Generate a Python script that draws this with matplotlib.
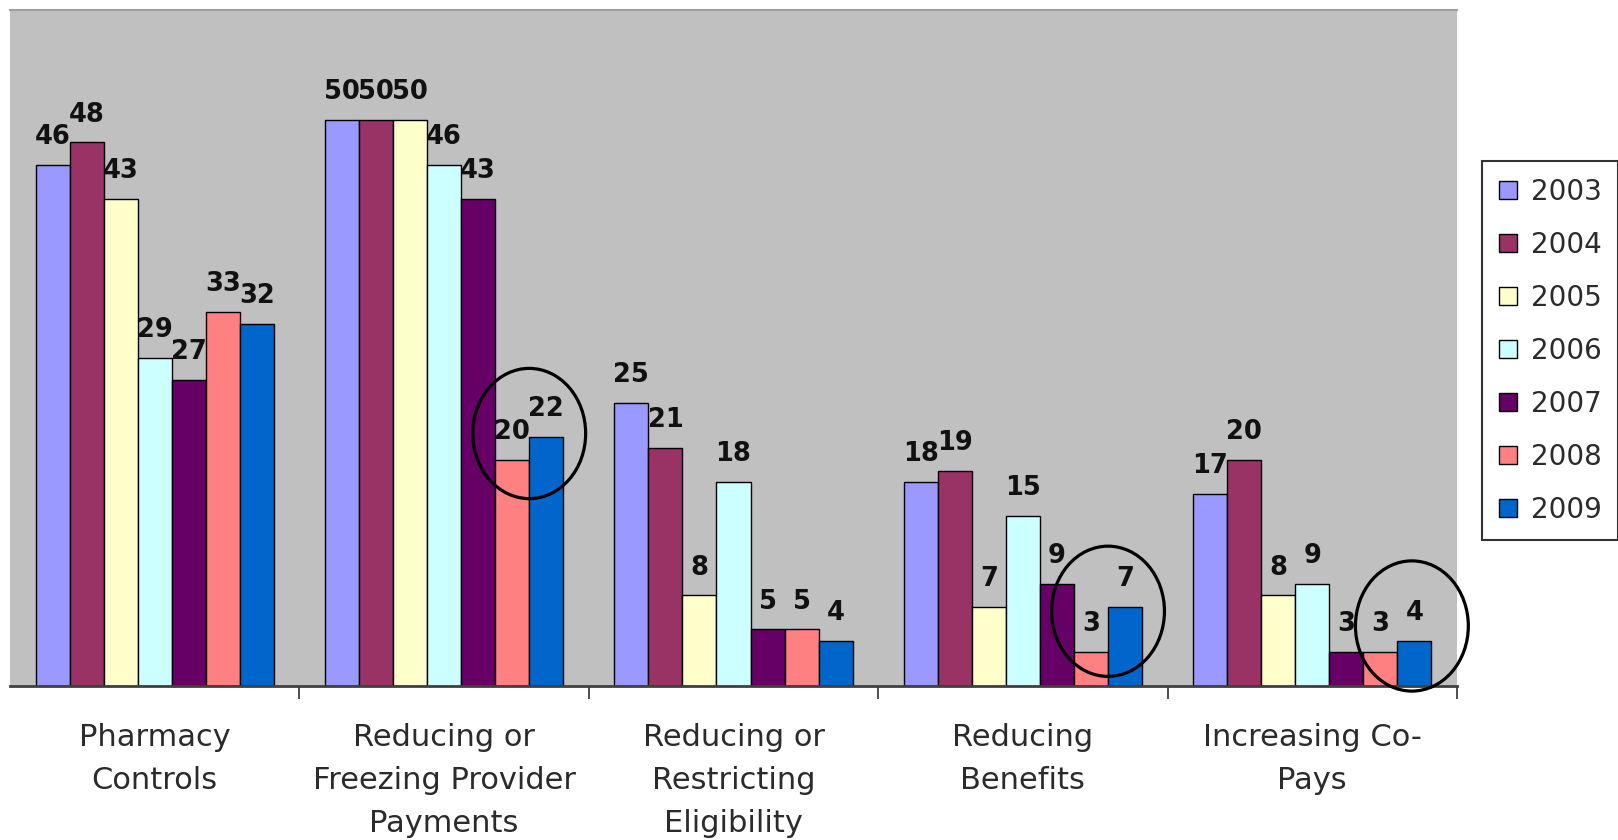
import numpy as np
import matplotlib
matplotlib.use('Agg')
import matplotlib.pyplot as plt
from matplotlib.patches import Ellipse

# 各类措施的州数
categories = ['Pharmacy\nControls',
              'Reducing or\nFreezing Provider\nPayments',
              'Reducing or\nRestricting\nEligibility',
              'Reducing\nBenefits',
              'Increasing Co-\nPays']
years = ['2003', '2004', '2005', '2006', '2007', '2008', '2009']
v2003 = [46, 50, 25, 18, 17]
v2004 = [48, 50, 21, 19, 20]
v2005 = [43, 50, 8, 7, 8]
v2006 = [29, 46, 18, 15, 9]
v2007 = [27, 43, 5, 9, 3]
v2008 = [33, 20, 5, 3, 3]
v2009 = [32, 22, 4, 7, 4]
series = [v2003, v2004, v2005, v2006, v2007, v2008, v2009]

colors = ['#9999ff', '#993366', '#ffffcc', '#ccffff', '#660066', '#ff8080', '#0066cc']

# 圈出的位置 (类别序号, 横向微调, 圈中心高度)
circled = [(1, 0.0, 22.3), (3, 0.0, 6.6), (4, 0.05, 5.3)]

fig = plt.figure(figsize=(16.18, 8.4), dpi=100)
ax = fig.add_axes([10 / 1618, 1 - 686 / 840, 1447 / 1618, 676 / 840])
ax.set_facecolor('#c0c0c0')

x = np.arange(len(categories))
w = 1 / 8.5
handles = []
for j, vals in enumerate(series):
    pos = x + (j - 3) * w
    bars = ax.bar(pos, vals, width=w, color=colors[j], edgecolor='black', linewidth=1.0, label=years[j])
    handles.append(bars)
    for px, v in zip(pos, vals):
        ax.annotate(str(v), (px, v), xytext=(0, 15), textcoords='offset points',
                    ha='center', va='baseline', fontsize=18.5, fontweight='bold',
                    color='#111111', family='DejaVu Sans')

# 椭圆标注
for ci, dx, cy in circled:
    cx = ci + 2.5 * w + dx
    ax.add_patch(Ellipse((cx, cy), 0.39, 11.5, fill=False, edgecolor='black',
                         linewidth=2.3, clip_on=False, zorder=5))

ax.set_xlim(-0.5, len(categories) - 0.5)
ax.set_ylim(0, 59.7)
ax.set_yticks([])

# 分隔刻度（最左边不画）
ax.set_xticks(np.arange(1, len(categories) + 1) - 0.5)
ax.set_xticklabels([])
ax.tick_params(axis='x', which='major', length=9, width=1.3, color='#404040', direction='out')
ax.set_xticks(x, minor=True)
ax.set_xticklabels(categories, minor=True, fontsize=22, color='#2b2b2b', linespacing=1.6)
ax.tick_params(axis='x', which='minor', length=0, pad=27)

for s in ['left', 'right']:
    ax.spines[s].set_visible(False)
ax.spines['top'].set_color('#a0a0a0')
ax.spines['top'].set_linewidth(1.5)
ax.spines['bottom'].set_color('#404040')
ax.spines['bottom'].set_linewidth(2)

leg = fig.legend(handles=handles, loc='upper left', bbox_to_anchor=(1482 / 1618, 1 - 161 / 840),
                 borderaxespad=0, fontsize=20, frameon=True, fancybox=False,
                 handlelength=0.65, handleheight=0.65, handletextpad=0.5,
                 labelspacing=0.9, borderpad=0.6, labelcolor='#2b2b2b')
leg.get_frame().set_edgecolor('black')
leg.get_frame().set_linewidth(1.5)

fig.savefig('out.png', dpi=100)
